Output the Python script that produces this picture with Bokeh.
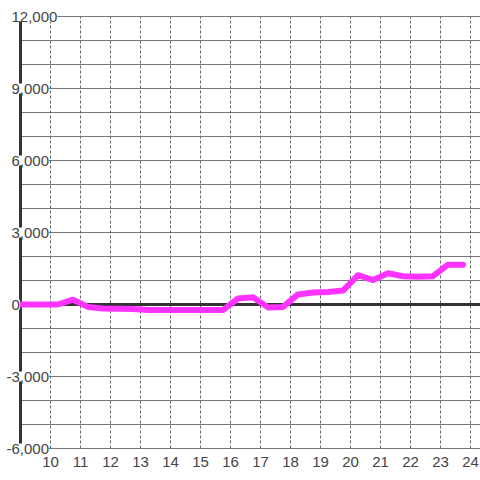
from bokeh.plotting import figure
from bokeh.models import Range1d, LabelSet, ColumnDataSource
from bokeh.core.properties import value
from bokeh.embed import file_html
from bokeh.resources import INLINE

# ---- data ----
hours = [9.0, 9.25, 9.75, 10.25, 10.75, 11.25, 11.75, 12.25, 12.75, 13.25,
         13.75, 14.25, 14.75, 15.25, 15.75, 16.25, 16.75, 17.25, 17.75, 18.25,
         18.75, 19.25, 19.75, 20.25, 20.75, 21.25, 21.75, 22.25, 22.75, 23.25,
         23.75]
values = [0, 0, 0, 0, 200, -100, -170, -180, -190, -230,
          -230, -230, -230, -230, -230, 250, 300, -120, -100, 420,
          500, 520, 580, 1220, 1020, 1300, 1180, 1160, 1180, 1660,
          1660]

x_ticks = [10, 11, 12, 13, 14, 15, 16, 17, 18, 19, 20, 21, 22, 23, 24]
x_tick_txt = [str(t) for t in x_ticks]
y_grid = [-6000, -5000, -4000, -3000, -2000, -1000, 0, 1000, 2000, 3000,
          4000, 5000, 6000, 7000, 8000, 9000, 10000, 11000, 12000]
y_label_vals = [12000, 9000, 6000, 3000, 0, -3000, -6000]
y_label_txt = ["12,000", "9,000", "6,000", "3,000", "0", "-3,000", "-6,000"]

X_MIN, X_MAX = 9, 24.3333          # axis line .. right edge
Y_MIN, Y_MAX = -6000, 12000        # plotted value range
PX_X = 1 / 30.0                    # data units per pixel (x)
PX_Y = 18000 / 432.0               # data units per pixel (y)
FONT = value("Liberation Sans")

p = figure(width=480, height=480, output_backend="svg", toolbar_location=None,
           x_range=Range1d(X_MIN - 20 * PX_X, X_MAX),
           y_range=Range1d(Y_MIN - 32 * PX_Y, Y_MAX + 16 * PX_Y),
           x_axis_location=None, y_axis_location=None,
           min_border=0, min_border_left=0, min_border_right=0,
           min_border_top=0, min_border_bottom=0)
p.outline_line_color = None
p.background_fill_color = "white"
p.border_fill_color = "white"
p.grid.visible = False

# horizontal grid lines
p.segment(x0=[X_MIN] * len(y_grid), x1=[X_MAX] * len(y_grid),
          y0=y_grid, y1=y_grid, line_color="#777777", line_width=1)
# vertical dashed grid lines
p.segment(x0=x_ticks, x1=x_ticks, y0=[Y_MIN] * len(x_ticks),
          y1=[Y_MAX] * len(x_ticks), line_color="#666666", line_width=1,
          line_dash="3 2")
# zero line and left axis line
p.segment(x0=[X_MIN], x1=[X_MAX], y0=[0], y1=[0],
          line_color="#333333", line_width=3)
p.segment(x0=[X_MIN], x1=[X_MIN], y0=[Y_MIN], y1=[Y_MAX],
          line_color="#333333", line_width=3)

p.line(hours, values, line_color="#ff33ff", line_width=6,
       line_join="round", line_cap="round")

# y labels (white background over axis line / grid)
pos = [(v, t) for v, t in zip(y_label_vals, y_label_txt) if v >= 0]
neg = [(v, t) for v, t in zip(y_label_vals, y_label_txt) if v < 0]
for group, off in ((pos, -9), (neg, -14)):
    src = ColumnDataSource(dict(y=[g[0] for g in group],
                                t=[g[1] for g in group],
                                x=[X_MIN] * len(group)))
    p.add_layout(LabelSet(x="x", y="y", text="t", source=src,
                          x_offset=off, text_align="left",
                          text_baseline="middle",
                          text_font=FONT, text_font_size=value("15px"),
                          text_color=value("#444444"),
                          background_fill_color=value("white")))

# x labels
xsrc = ColumnDataSource(dict(x=x_ticks, t=x_tick_txt,
                             y=[Y_MIN] * len(x_ticks)))
p.add_layout(LabelSet(x="x", y="y", text="t", source=xsrc, y_offset=-13,
                      text_align="center", text_baseline="middle",
                      text_font=FONT, text_font_size=value("15px"),
                      text_color=value("#444444")))

open("out.html", "w").write(file_html(p, INLINE))
